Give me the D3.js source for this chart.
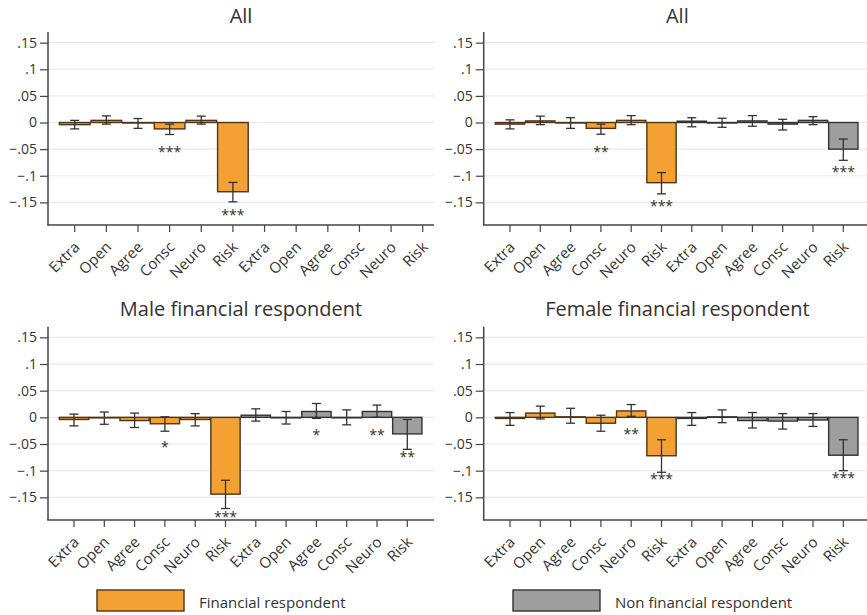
<!DOCTYPE html>
<html>
<head>
<meta charset="utf-8">
<script src="https://cdn.jsdelivr.net/npm/d3@7"></script>
<style>
  body { margin: 0; background: #fff; }
  text { font-family: "Open Sans", sans-serif; fill: #333; }
</style>
</head>
<body>
<div id="chart"></div>
<script>
/*global d3*/

// categories and tick labels
const traits = ["Extra", "Open", "Agree", "Consc", "Neuro", "Risk"];
const yTicks = [-0.15, -0.1, -0.05, 0, 0.05, 0.1, 0.15];
const titles = ["All", "All", "Male financial respondent", "Female financial respondent"];
const legendLabels = ["Financial respondent", "Non financial respondent"];

// panel 1: All (financial respondent only)
const p1FinValue = [-0.004, 0.004, -0.001, -0.012, 0.004, -0.13];
const p1FinLow   = [-0.012, -0.003, -0.011, -0.0225, -0.003, -0.149];
const p1FinHigh  = [0.004, 0.0125, 0.0075, -0.003, 0.012, -0.1125];
const p1FinStars = ["", "", "", "***", "", "***"];
const p1NonValue = [null, null, null, null, null, null];
const p1NonLow   = [null, null, null, null, null, null];
const p1NonHigh  = [null, null, null, null, null, null];
const p1NonStars = ["", "", "", "", "", ""];

// panel 2: All (both)
const p2FinValue = [-0.003, 0.003, -0.001, -0.011, 0.004, -0.113];
const p2FinLow   = [-0.012, -0.004, -0.011, -0.022, -0.004, -0.134];
const p2FinHigh  = [0.005, 0.012, 0.009, -0.003, 0.013, -0.094];
const p2FinStars = ["", "", "", "**", "", "***"];
const p2NonValue = [0.0025, -0.001, 0.003, -0.003, 0.004, -0.05];
const p2NonLow   = [-0.008, -0.009, -0.007, -0.014, -0.004, -0.071];
const p2NonHigh  = [0.009, 0.008, 0.013, 0.006, 0.011, -0.031];
const p2NonStars = ["", "", "", "", "", "***"];

// panel 3: Male financial respondent
const p3FinValue = [-0.004, -0.001, -0.006, -0.012, -0.004, -0.144];
const p3FinLow   = [-0.016, -0.013, -0.019, -0.026, -0.016, -0.171];
const p3FinHigh  = [0.006, 0.01, 0.008, 0.001, 0.007, -0.118];
const p3FinStars = ["", "", "", "*", "", "***"];
const p3NonValue = [0.004, -0.001, 0.011, 0, 0.011, -0.031];
const p3NonLow   = [-0.007, -0.0125, -0.002, -0.014, 0, -0.06];
const p3NonHigh  = [0.016, 0.011, 0.026, 0.014, 0.023, -0.004];
const p3NonStars = ["", "", "*", "", "**", "**"];

// panel 4: Female financial respondent
const p4FinValue = [-0.002, 0.008, 0.001, -0.011, 0.012, -0.072];
const p4FinLow   = [-0.015, -0.003, -0.011, -0.026, 0.002, -0.103];
const p4FinHigh  = [0.009, 0.021, 0.017, 0.004, 0.024, -0.042];
const p4FinStars = ["", "", "", "", "**", "***"];
const p4NonValue = [-0.002, 0.001, -0.006, -0.007, -0.005, -0.071];
const p4NonLow   = [-0.015, -0.01, -0.02, -0.022, -0.017, -0.1];
const p4NonHigh  = [0.009, 0.014, 0.009, 0.007, 0.007, -0.042];
const p4NonStars = ["", "", "", "", "", "***"];

const width = 867;
const height = 615;

const finFill = "#f5a033", finStroke = "#4a3518";
const nonFill = "#9e9e9e", nonStroke = "#333333";

const svg = d3.select("#chart")
  .append("svg")
    .attr("width", width)
    .attr("height", height);

// build rows for one panel
function rows(fv, fl, fh, fs, nv, nl, nh, ns) {
  const out = [];
  traits.forEach((t, i) => out.push({ i: i, value: fv[i], lo: fl[i], hi: fh[i], stars: fs[i], fin: true }));
  traits.forEach((t, i) => out.push({ i: i + 6, value: nv[i], lo: nl[i], hi: nh[i], stars: ns[i], fin: false }));
  return out.filter(d => d.value !== null);
}

const panelData = [
  rows(p1FinValue, p1FinLow, p1FinHigh, p1FinStars, p1NonValue, p1NonLow, p1NonHigh, p1NonStars),
  rows(p2FinValue, p2FinLow, p2FinHigh, p2FinStars, p2NonValue, p2NonLow, p2NonHigh, p2NonStars),
  rows(p3FinValue, p3FinLow, p3FinHigh, p3FinStars, p3NonValue, p3NonLow, p3NonHigh, p3NonStars),
  rows(p4FinValue, p4FinLow, p4FinHigh, p4FinStars, p4NonValue, p4NonLow, p4NonHigh, p4NonStars)
];

// where each panel sits
const layout = [
  { left: 48,    right: 434, top: 32,    bottom: 225, first: 74.7, step: 31.64, titleY: 22.5 },
  { left: 483.7, right: 870, top: 32,    bottom: 225, first: 510,  step: 30.3,  titleY: 22.5 },
  { left: 48,    right: 434, top: 326.7, bottom: 520, first: 74,   step: 30.3,  titleY: 315.5 },
  { left: 483.7, right: 870, top: 326.7, bottom: 520, first: 510,  step: 30.3,  titleY: 315.5 }
];

const labels = traits.concat(traits);

const fmt = function(v) {
  if (v === 0) return "0";
  return (v < 0 ? "\u2212" : "") + String(Math.abs(v)).replace(/^0/, "");
};

panelData.forEach(function(data, k) {
  const L = layout[k];
  const g = svg.append("g");

  const x = d3.scaleBand()
    .domain(d3.range(12))
    .range([L.first - L.step / 2, L.first + 11.5 * L.step])
    .padding(0);

  const y = d3.scaleLinear()
    .domain([-0.1925, 0.17])
    .range([L.bottom, L.top]);

  // gridlines
  g.selectAll(".grid")
    .data(yTicks)
    .join("line")
      .attr("x1", L.left).attr("x2", L.right)
      .attr("y1", d => y(d)).attr("y2", d => y(d))
      .attr("stroke", "#eaeaea")
      .attr("stroke-width", 1.2);

  // bars
  g.selectAll(".bar")
    .data(data)
    .join("rect")
      .attr("x", d => x(d.i) + 0.5)
      .attr("width", x.bandwidth() - 1)
      .attr("y", d => y(Math.max(d.value, 0)))
      .attr("height", d => Math.max(Math.abs(y(d.value) - y(0)), 0.5))
      .attr("fill", d => d.fin ? finFill : nonFill)
      .attr("stroke", d => d.fin ? finStroke : nonStroke)
      .attr("stroke-width", 1.4);

  // error bars
  const cx = d => x(d.i) + x.bandwidth() / 2;
  const eb = g.selectAll(".err").data(data).join("g").attr("stroke", "#333").attr("stroke-width", 1.3);
  eb.append("line").attr("x1", cx).attr("x2", cx).attr("y1", d => y(d.lo)).attr("y2", d => y(d.hi));
  eb.append("line").attr("x1", d => cx(d) - 4.5).attr("x2", d => cx(d) + 4.5).attr("y1", d => y(d.lo)).attr("y2", d => y(d.lo));
  eb.append("line").attr("x1", d => cx(d) - 4.5).attr("x2", d => cx(d) + 4.5).attr("y1", d => y(d.hi)).attr("y2", d => y(d.hi));

  // significance stars
  g.selectAll(".stars")
    .data(data.filter(d => d.stars))
    .join("text")
      .attr("x", cx)
      .attr("y", d => y(d.value - 0.038) + 8)
      .attr("text-anchor", "middle")
      .style("font-size", "14px")
      .text(d => d.stars);

  // y axis
  const yAxis = g.append("g")
    .attr("transform", `translate(${L.left},0)`)
    .call(d3.axisLeft(y).tickValues(yTicks).tickFormat(fmt).tickSize(8).tickPadding(3).tickSizeOuter(0));
  yAxis.select(".domain").remove();
  yAxis.selectAll(".tick line").attr("stroke", "#444").attr("stroke-width", 1.2);
  yAxis.selectAll(".tick text").style("font-size", "14px").attr("fill", "#333").style("font-family", "'Open Sans', sans-serif");
  g.append("line")
    .attr("x1", L.left).attr("x2", L.left)
    .attr("y1", L.top).attr("y2", L.bottom)
    .attr("stroke", "#444").attr("stroke-width", 1.5);

  // x axis
  const xAxis = g.append("g")
    .attr("transform", `translate(0,${L.bottom})`)
    .call(d3.axisBottom(x).tickFormat(i => labels[i]).tickSize(7).tickSizeOuter(0));
  xAxis.select(".domain").remove();
  xAxis.selectAll(".tick line").attr("stroke", "#444").attr("stroke-width", 1.2);
  xAxis.selectAll(".tick text")
    .attr("text-anchor", "end")
    .attr("x", 6).attr("y", 23).attr("dy", 0)
    .attr("transform", "rotate(-45, 6, 23)")
    .style("font-size", "15px").attr("fill", "#333")
    .style("font-family", "'Open Sans', sans-serif");
  g.append("line")
    .attr("x1", L.left - 0.75).attr("x2", L.right)
    .attr("y1", L.bottom).attr("y2", L.bottom)
    .attr("stroke", "#444").attr("stroke-width", 1.5);

  // title
  g.append("text")
    .attr("x", (L.left + Math.min(L.right, 867)) / 2 + (k % 2 ? 2 : 0))
    .attr("y", L.titleY)
    .attr("text-anchor", "middle")
    .style("font-size", "20px")
    .text(titles[k]);
});

// legend
const legend = svg.append("g");
const legendItems = [
  { x: 97, fill: finFill, stroke: finStroke, label: legendLabels[0] },
  { x: 513, fill: nonFill, stroke: nonStroke, label: legendLabels[1] }
];
legend.selectAll("rect")
  .data(legendItems)
  .join("rect")
    .attr("x", d => d.x).attr("y", 590)
    .attr("width", 87).attr("height", 21)
    .attr("fill", d => d.fill).attr("stroke", d => d.stroke).attr("stroke-width", 1.4);
legend.selectAll("text")
  .data(legendItems)
  .join("text")
    .attr("x", d => d.x + 102).attr("y", 608)
    .style("font-size", "15px")
    .text(d => d.label);
</script>
</body>
</html>
